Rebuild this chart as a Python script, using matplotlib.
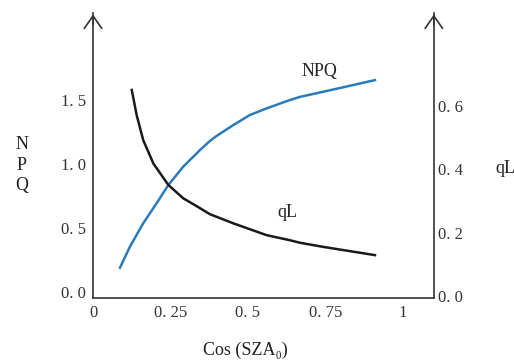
import matplotlib.pyplot as plt

plt.rcParams['font.family'] = ['Liberation Serif', 'DejaVu Serif']

# values
cos_sza_npq = [0.087, 0.119, 0.162, 0.205, 0.243, 0.291, 0.345, 0.377, 0.399,
               0.453, 0.506, 0.560, 0.635, 0.668, 0.743, 0.910]
npq = [0.190, 0.354, 0.537, 0.693, 0.836, 0.979, 1.109, 1.180, 1.220,
       1.305, 1.383, 1.435, 1.500, 1.525, 1.565, 1.656]

cos_sza_ql = [0.125, 0.141, 0.162, 0.195, 0.243, 0.291, 0.345, 0.377, 0.453,
              0.560, 0.635, 0.668, 0.743, 0.910]
ql = [0.649, 0.569, 0.491, 0.417, 0.350, 0.308, 0.277, 0.258, 0.229,
      0.192, 0.176, 0.168, 0.155, 0.129]

x_ticks = [0, 0.25, 0.5, 0.75, 1]
x_labels = ['0', '0. 25', '0. 5', '0. 75', '1']
npq_ticks = [0.0, 0.5, 1.0, 1.5]
npq_labels = ['0. 0', '0. 5', '1. 0', '1. 5']
ql_ticks = [0.0, 0.2, 0.4, 0.6]
ql_labels = ['0. 0', '0. 2', '0. 4', '0. 6']

fig = plt.figure(figsize=(5.14, 3.63), dpi=100)
ax1 = fig.add_axes([0.181, 0.179, 0.663, 0.785])
ax2 = ax1.twinx()

ax1.plot(cos_sza_npq, npq, color='#2b7bba', lw=1.8, solid_joinstyle='round')
ax2.plot(cos_sza_ql, ql, color='#1a1a1a', lw=1.8, solid_joinstyle='round')

ax1.set_xlim(0, 1.1)
ax1.set_ylim(-0.047, 2.18)
ax2.set_ylim(-0.006, 0.891)

ax1.set_xticks(x_ticks, x_labels)
ax1.set_yticks(npq_ticks, npq_labels)
ax2.set_yticks(ql_ticks, ql_labels)

for ax in (ax1, ax2):
    for s in ax.spines.values():
        s.set_visible(False)
    ax.tick_params(length=0, labelsize=12, colors='#333333', pad=5)
ax1.spines['left'].set_visible(True)
ax1.spines['bottom'].set_visible(True)
ax2.spines['right'].set_visible(True)
for s in (ax1.spines['left'], ax1.spines['bottom'], ax2.spines['right']):
    s.set_color('#333333')
    s.set_linewidth(1.2)
ax2.tick_params(pad=3)

# arrow heads on the vertical axes
for xa in (0, 1):
    ax1.annotate('', xy=(xa, 1.005), xytext=(xa, 0.95), xycoords='axes fraction',
                 arrowprops=dict(arrowstyle='->,head_length=0.5,head_width=0.35',
                                 color='#333333', lw=1.2, mutation_scale=18))

ax1.text(0.73, 1.72, 'NPQ', fontsize=13, color='#222222', ha='center', va='center')
ax1.text(0.626, 0.62, 'qL', fontsize=13, color='#222222', ha='center', va='center')

fig.text(22 / 514, 1 - 165 / 363, 'N\nP\nQ', fontsize=13, ha='center', va='center',
         linespacing=1.3, color='#222222')
fig.text(505 / 514, 1 - 169 / 363, 'qL', fontsize=13, ha='center', va='center',
         color='#222222')
fig.text(245 / 514, 1 - 350 / 363, 'Cos (SZA\u2080)', fontsize=13, ha='center',
         va='center', color='#222222')

fig.savefig('out.png', dpi=100)
